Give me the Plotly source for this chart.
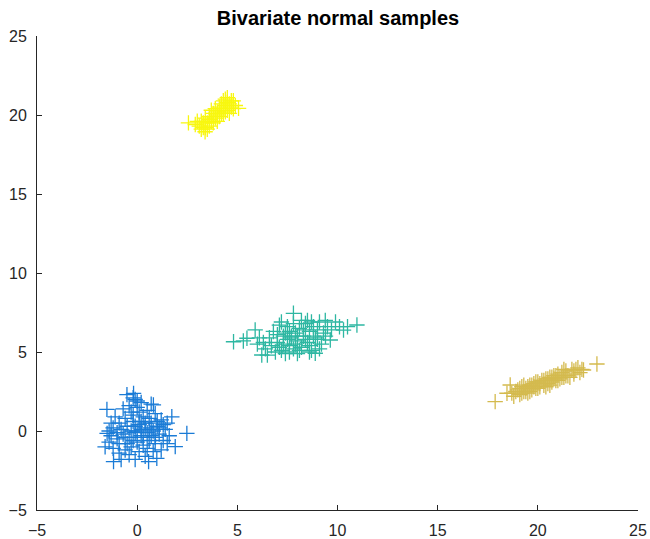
import plotly.graph_objects as go

# Cluster 1 (blue)
blue_x = [2.48,-1.51,-0.18,-0.51,-1.18,0.57,0.98,1.9,1.73,0.81,-1.6,-1.5,-0.1,0.2,0.0,-0.3,0.5,0.9,1.2,1.5,1.0,0.7,0.4,0.1,-0.2,-0.6,-0.9,-1.2,-1.3,-1.0,-0.7,-0.4,-0.1,0.2,0.5,0.8,1.1,1.4,1.6,1.3,0.9,0.6,0.3,0.0,-0.3,-0.6,-0.9,-1.2,-1.4,-0.8,-0.4,0.1,0.4,0.8,1.2,1.5,-0.2,0.3,0.6,-0.5,-0.8,0.2,-0.1,0.4,1.0,-1.1,-0.4,0.1,0.7,-0.7,-1.0,-0.2,0.3,0.9,-1.3,-0.5,0.0,0.6,-0.3,1.1,-0.6,0.2,-0.9,0.5,-0.1,0.7,-1.4,1.3,-0.2,0.0]
blue_y = [-0.15,1.37,2.38,2.3,-1.94,-1.94,-1.73,-0.99,0.9,1.65,-1.0,-0.15,2.0,1.8,1.5,1.2,1.3,1.1,0.7,0.5,0.3,0.5,0.2,0.4,0.6,0.8,0.5,0.2,-0.3,-0.5,-0.2,-0.4,-0.1,-0.3,-0.1,0.0,-0.2,0.1,-0.3,-0.6,-0.8,-0.6,-0.9,-0.7,-1.0,-1.2,-1.4,-1.1,-0.7,-1.8,-1.5,-1.3,-1.6,-1.3,-1.2,-0.8,1.0,0.9,0.8,0.3,0.1,0.1,0.3,0.5,0.6,0.9,1.6,1.2,1.7,1.4,-0.1,-0.6,-0.4,-0.4,0.5,-0.8,0.0,0.1,0.0,0.2,-0.4,0.6,-0.8,-1.1,-1.8,-0.3,0.0,0.4,2.1,1.9]

# Cluster 2 (teal)
teal_x = [4.81,10.97,10.3,7.8,5.89,5.48,6.22,8.89,9.64,9.39,5.3,6.0,6.4,6.6,6.8,7.0,7.2,7.3,7.5,7.6,7.7,7.9,8.0,8.1,8.2,8.3,8.4,8.5,8.6,8.7,8.8,8.9,9.0,9.1,9.2,9.3,9.5,9.7,9.9,10.1,7.4,6.9,6.5,7.1,7.6,8.2,7.8,8.6,9.1,7.3,6.7,7.0,7.9,8.4,8.0,7.7,8.8,8.1,6.3,7.5,9.4,10.5,8.5,7.2,7.4,8.3,8.7,6.1,9.0,7.8,8.6,7.1,7.6,8.0]
teal_y = [5.65,6.71,6.39,7.45,6.4,5.87,4.81,4.92,5.76,7.0,5.7,5.5,5.2,5.9,6.3,5.6,5.1,6.0,6.6,5.4,5.9,6.2,5.7,6.5,5.3,6.0,6.8,5.6,6.3,5.1,6.6,5.9,6.4,6.9,5.5,6.2,6.6,6.4,6.9,6.6,4.9,5.0,4.8,6.7,6.3,7.0,5.2,5.0,5.2,5.5,5.4,6.1,5.5,5.8,6.0,6.0,6.0,5.1,5.6,5.8,6.0,6.6,7.0,6.9,6.2,6.4,6.9,5.9,5.8,6.8,5.4,5.3,5.0,4.9]

# Cluster 3 (gold)
gold_x = [17.87,22.95,18.62,18.46,22.28,18.8,19.0,19.1,19.2,19.3,19.4,19.5,19.6,19.7,19.8,19.9,20.0,20.1,20.2,20.3,20.4,20.5,20.6,20.7,20.8,20.9,21.0,21.1,21.2,21.3,21.4,21.5,21.7,21.8,22.0,22.1,21.9,18.9,19.3,19.6,19.9,20.3,20.6,21.0,21.4,21.6,20.0,19.5,20.8,21.2,19.1,20.4,20.9,19.8,21.8,20.1,19.4,20.7,22.2,18.7,19.2,21.3,20.5,19.7]
gold_y = [1.86,4.24,2.91,2.39,3.86,2.2,2.6,2.3,2.8,2.5,2.7,2.4,2.9,2.6,3.0,2.7,3.1,2.8,3.2,2.9,3.3,3.0,3.4,3.1,3.5,3.2,3.6,3.3,3.7,3.4,3.8,3.5,3.9,3.6,4.0,3.7,3.9,2.5,2.9,2.5,3.1,3.2,2.9,3.2,3.5,3.4,2.7,2.8,3.3,3.4,2.7,2.8,3.5,2.8,3.8,3.0,2.5,3.4,3.9,2.4,2.4,3.9,3.3,2.9]

# Cluster 4 (yellow)
yellow_x = [2.56,4.5,3.39,5.06,2.9,3.1,3.2,3.3,3.4,3.5,3.6,3.7,3.8,3.9,4.0,4.1,4.2,4.3,4.4,4.5,4.6,4.7,4.8,4.9,4.3,3.7,3.5,4.0,4.6,4.2,3.9,3.3,3.6,4.4,4.1,3.8,4.7,4.5,3.0,3.4,4.0,4.2,3.6,4.8,4.4,3.2]
yellow_y = [19.5,21.1,18.94,20.42,19.4,19.3,19.6,19.2,19.8,19.5,19.9,19.6,20.1,19.8,20.2,19.9,20.4,20.1,20.6,20.3,20.7,20.5,20.9,20.6,20.9,20.3,19.1,19.6,20.1,20.7,20.4,19.5,19.3,20.2,20.5,19.5,20.9,20.8,19.6,19.2,20.0,20.1,19.7,20.4,21.0,19.1]

title_text = "Bivariate normal samples"
tick_vals_x = [-5, 0, 5, 10, 15, 20, 25]
tick_vals_y = [-5, 0, 5, 10, 15, 20, 25]

series = [
    (blue_x, blue_y, "#1a7bd6"),
    (teal_x, teal_y, "#2eb7a2"),
    (gold_x, gold_y, "#d4ba4e"),
    (yellow_x, yellow_y, "#f8f70f"),
]

fig = go.Figure()
for xs, ys, col in series:
    fig.add_trace(go.Scatter(
        x=xs, y=ys, mode="markers",
        marker=dict(symbol="cross-thin", size=11, line=dict(color=col, width=1.3), color=col),
        showlegend=False,
    ))

axis_common = dict(
    showgrid=False, zeroline=False, showline=True, linecolor="#262626", linewidth=1,
    ticks="inside", ticklen=5, tickcolor="#262626", mirror=False, automargin=False,
    tickfont=dict(family="Liberation Sans, Arial, sans-serif", size=16, color="#262626"),
)

fig.update_layout(
    width=650, height=539,
    margin=dict(l=37, r=12, t=36, b=29, autoexpand=False),
    paper_bgcolor="white", plot_bgcolor="white",
    title=dict(text="<b>" + title_text + "</b>", x=0.52, xanchor="center", y=0.967, yanchor="middle",
               font=dict(family="Liberation Sans, Arial, sans-serif", size=20, color="black")),
    xaxis=dict(range=[-5, 25], tickvals=tick_vals_x, ticklabelstandoff=6, **axis_common),
    yaxis=dict(range=[-5, 25], tickvals=tick_vals_y, ticklabelstandoff=6, **axis_common),
)

fig.write_html("out.html")
